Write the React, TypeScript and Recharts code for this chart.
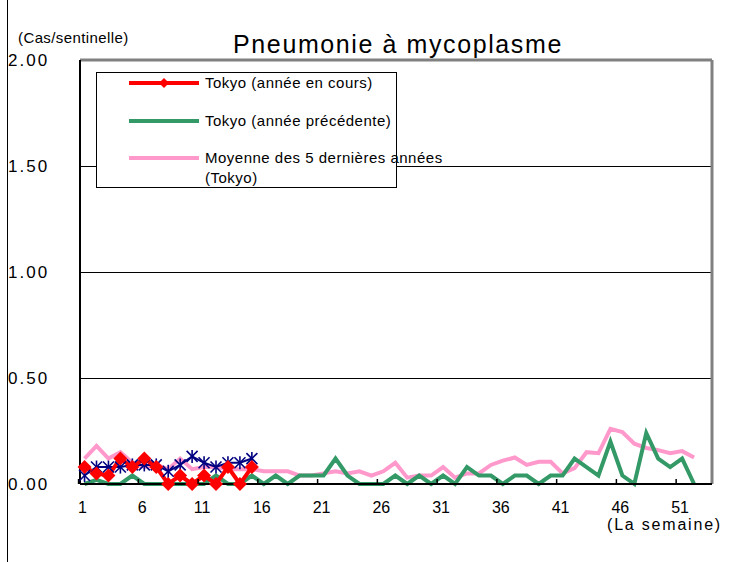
import { CartesianGrid, Line, LineChart, ReferenceLine, XAxis, YAxis } from "recharts";

// weeks 1..52 (a 53rd slot is left empty on the axis)
const weeks = Array.from({ length: 52 }, (_, i) => i + 1);

const currentYear = [0.08, 0.05, 0.04, 0.12, 0.08, 0.12, 0.08, 0.0, 0.04, 0.0, 0.04, 0.0, 0.08, 0.0, 0.08];
const nationalYear = [0.04, 0.08, 0.08, 0.08, 0.09, 0.09, 0.09, 0.06, 0.09, 0.13, 0.1, 0.08, 0.1, 0.1, 0.12];
const previousYear = [
  0, 0.02, 0, 0, 0.04, 0, 0, 0, 0, 0, 0, 0.04, 0, 0, 0.04, 0, 0.04, 0, 0.04, 0.04, 0.04, 0.12, 0.04, 0, 0, 0,
  0.04, 0, 0.04, 0, 0.04, 0, 0.08, 0.04, 0.04, 0, 0.04, 0.04, 0, 0.04, 0.04, 0.12, 0.08, 0.04, 0.2, 0.04, 0, 0.24,
  0.12, 0.08, 0.12, 0,
];
const fiveYearAvg = [
  0.12, 0.18, 0.12, 0.15, 0.1, 0.08, 0.09, 0.07, 0.12, 0.07, 0.08, 0.08, 0.07, 0.07, 0.07, 0.06, 0.06, 0.06, 0.04,
  0.04, 0.05, 0.06, 0.05, 0.06, 0.04, 0.06, 0.1, 0.03, 0.04, 0.04, 0.08, 0.03, 0.05, 0.05, 0.09, 0.11, 0.125, 0.09,
  0.105, 0.105, 0.05, 0.075, 0.15, 0.145, 0.26, 0.245, 0.19, 0.17, 0.16, 0.145, 0.155, 0.125,
];

const xTicks = [1, 6, 11, 16, 21, 26, 31, 36, 41, 46, 51];
const yTicks = [0, 0.5, 1, 1.5, 2];

const legendItems = [
  { label: ["Tokyo (année en cours)"], color: "#ff0000", marker: true },
  { label: ["Tokyo (année précédente)"], color: "#339966", marker: false },
  { label: ["Moyenne des 5 dernières années", "(Tokyo)"], color: "#ff99cc", marker: false },
];

const data = weeks.map((w, i) => ({
  week: w,
  current: i < currentYear.length ? currentYear[i] : null,
  national: i < nationalYear.length ? nationalYear[i] : null,
  previous: previousYear[i],
  average: fiveYearAvg[i],
}));

const FONT = "'Liberation Sans', Arial, sans-serif";

function Diamond(props: any) {
  const { cx, cy } = props;
  if (cx == null || cy == null) return null;
  const s = 7;
  return <polygon points={`${cx},${cy - s} ${cx + s},${cy} ${cx},${cy + s} ${cx - s},${cy}`} fill="#ff0000" />;
}

function Star(props: any) {
  const { cx, cy } = props;
  if (cx == null || cy == null) return null;
  const s = 5.5;
  return (
    <g stroke="#000080" strokeWidth={1.6}>
      <line x1={cx - s} y1={cy - s} x2={cx + s} y2={cy + s} />
      <line x1={cx - s} y1={cy + s} x2={cx + s} y2={cy - s} />
      <line x1={cx} y1={cy - s - 1} x2={cx} y2={cy + s + 1} />
    </g>
  );
}

function YTick(props: any) {
  const { y, payload } = props;
  return (
    <text x={8} y={y} dy={6} textAnchor="start" fontSize={17} letterSpacing={2} fill="#000" fontFamily={FONT}>
      {Number(payload.value).toFixed(2)}
    </text>
  );
}

function XTick(props: any) {
  const { x, payload } = props;
  const band = 11.95;
  const axisY = 484;
  return (
    <g>
      <line x1={x - band / 2} y1={axisY - 5} x2={x - band / 2} y2={axisY} stroke="#000" strokeWidth={1.5} />
      <text x={x - 2} y={axisY + 29} textAnchor="middle" fontSize={16} fill="#000" fontFamily={FONT}>
        {payload.value}
      </text>
    </g>
  );
}

function LegendBox() {
  return (
    <div
      style={{
        position: "absolute",
        left: 96,
        top: 72,
        width: 299,
        height: 114,
        border: "1px solid #000",
        background: "#fff",
        fontFamily: FONT,
        fontSize: 15,
        letterSpacing: 0.5,
      }}
    >
      {legendItems.map((item, i) => {
        const top = 10 + i * 37.5;
        return (
          <div key={i} style={{ position: "absolute", left: 0, top: top - 10 }}>
            <svg width={110} height={20} style={{ position: "absolute", left: 0, top: 0 }}>
              <line x1={32} y1={10} x2={102} y2={10} stroke={item.color} strokeWidth={4} />
              {item.marker && <polygon points="67,5 72,10 67,15 62,10" fill={item.color} />}
            </svg>
            <div style={{ position: "absolute", left: 108, top: 0, whiteSpace: "nowrap", lineHeight: "20px" }}>
              {item.label.map((l, j) => (
                <div key={j}>{l}</div>
              ))}
            </div>
          </div>
        );
      })}
    </div>
  );
}

export default function App() {
  return (
    <div style={{ position: "absolute", left: 0, top: 0, width: 732, height: 562, background: "#fff", fontFamily: FONT }}>
      <div style={{ position: "absolute", left: 7, top: 0, width: 0, height: 562, borderLeft: "1px solid #000" }} />
      <div
        style={{
          position: "absolute",
          left: 0,
          width: 796,
          top: 30,
          textAlign: "center",
          fontSize: 25,
          letterSpacing: 1.6,
          lineHeight: "28px",
        }}
      >
        Pneumonie à mycoplasme
      </div>
      <div style={{ position: "absolute", left: 18, top: 29, fontSize: 15, letterSpacing: 0.4 }}>(Cas/sentinelle)</div>
      <div style={{ position: "absolute", left: 0, top: 0 }}>
        <LineChart width={732} height={562} data={data} margin={{ top: 60, right: 20, bottom: 0, left: 0 }}>
          <CartesianGrid horizontal vertical={false} stroke="#000" strokeWidth={1} shapeRendering="crispEdges" />
          <XAxis
            dataKey="week"
            type="number"
            domain={[0.62, 53.5]}
            ticks={xTicks}
            interval={0}
            tick={<XTick />}
            tickLine={false}
            axisLine={{ stroke: "#000", strokeWidth: 2 }}
            height={78}
          />
          <YAxis
            type="number"
            domain={[0, 2]}
            ticks={yTicks}
            interval={0}
            tick={<YTick />}
            tickLine={false}
            axisLine={{ stroke: "#000", strokeWidth: 2 }}
            width={80}
          />
          <ReferenceLine y={2} stroke="#808080" strokeWidth={3} />
          <ReferenceLine x={53.5} stroke="#808080" strokeWidth={3} />
          <Line dataKey="average" stroke="#ff99cc" strokeWidth={4} dot={false} isAnimationActive={false} />
          <Line dataKey="previous" stroke="#339966" strokeWidth={4} dot={false} isAnimationActive={false} />
          <Line
            dataKey="national"
            stroke="#000080"
            strokeWidth={2}
            dot={<Star />}
            isAnimationActive={false}
            connectNulls={false}
          />
          <Line
            dataKey="current"
            stroke="#ff0000"
            strokeWidth={4}
            dot={<Diamond />}
            isAnimationActive={false}
            connectNulls={false}
          />
        </LineChart>
      </div>
      <LegendBox />
      <div style={{ position: "absolute", left: 607, top: 516, fontSize: 16, letterSpacing: 1.8, lineHeight: "18px" }}>
        (La semaine)
      </div>
    </div>
  );
}
